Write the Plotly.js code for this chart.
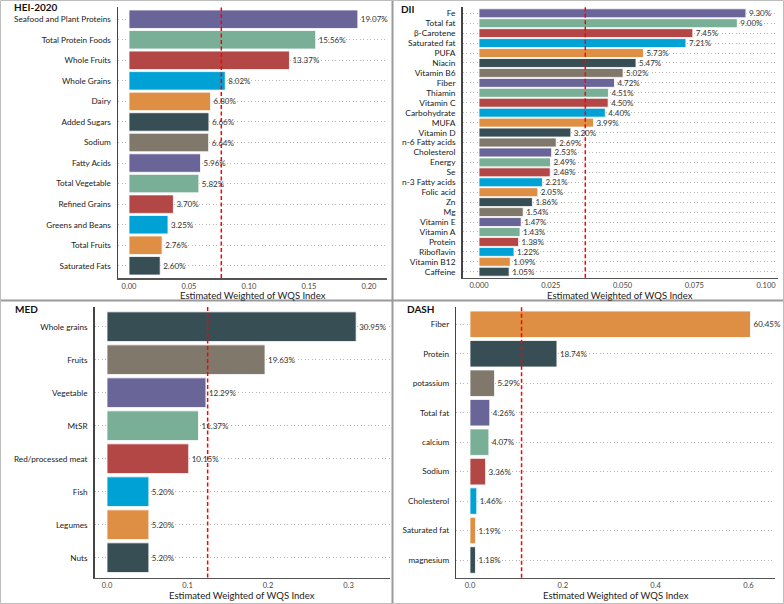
<!DOCTYPE html>
<html>
<head>
<meta charset="utf-8">
<script src="https://cdn.plot.ly/plotly-3.0.1.min.js"></script>
<style>html,body{margin:0;padding:0;background:#fff;}#chart{width:784px;height:604px;}</style>
</head>
<body>
<div id="chart"></div>
<script>
// ---------- DATA ----------
const heiCategories = ["Seafood and Plant Proteins","Total Protein Foods","Whole Fruits","Whole Grains","Dairy","Added Sugars","Sodium","Fatty Acids","Total Vegetable","Refined Grains","Greens and Beans","Total Fruits","Saturated Fats"];
const heiPercent = [19.07,15.56,13.37,8.02,6.80,6.66,6.64,5.96,5.82,3.70,3.25,2.76,2.60];

const diiCategories = ["Fe","Total fat","β-Carotene","Saturated fat","PUFA","Niacin","Vitamin B6","Fiber","Thiamin","Vitamin C","Carbohydrate","MUFA","Vitamin D","n-6 Fatty acids","Cholesterol","Energy","Se","n-3 Fatty acids","Folic acid","Zn","Mg","Vitamin E","Vitamin A","Protein","Riboflavin","Vitamin B12","Caffeine"];
const diiPercent = [9.30,9.00,7.45,7.21,5.73,5.47,5.02,4.72,4.51,4.50,4.40,3.99,3.20,2.69,2.53,2.49,2.48,2.21,2.05,1.86,1.54,1.47,1.43,1.38,1.22,1.09,1.05];

const medCategories = ["Whole grains","Fruits","Vegetable","MtSR","Red/processed meat","Fish","Legumes","Nuts"];
const medPercent = [30.95,19.63,12.29,11.37,10.15,5.20,5.20,5.20];

const dashCategories = ["Fiber","Protein","potassium","Total fat","calcium","Sodium","Cholesterol","Saturated fat","magnesium"];
const dashPercent = [60.45,18.74,5.29,4.26,4.07,3.36,1.46,1.19,1.18];

const panelTitles = ["HEI-2020","DII","MED","DASH"];
const axisTitle = "Estimated Weighted of WQS Index";

// ---------- STYLE ----------
const jama = ["#374E55","#DF8F44","#00A1D5","#B24745","#79AF97","#6A6599","#80796B"];
const FONT = "Lato, Open Sans, sans-serif";
const W = 784, H = 604;
const px = v => v / W;
const py = v => 1 - v / H;

// panel geometry in pixels: [left, right, top, bottom]
const panels = [
  {cats: heiCategories, pct: heiPercent, box: [118, 387, 6.9, 278.1], zero: 129, scale: 1200, dtick: 0.05, fmt: ".2f", title: [11.5, 6.5], atitle: 295.3, lab: 8.2},
  {cats: diiCategories, pct: diiPercent, box: [462.7, 778, 7.3, 277.7], zero: 479, scale: 2870, dtick: 0.025, fmt: ".3f", title: [399, 9], atitle: 295.3, lab: 8.4},
  {cats: medCategories, pct: medPercent, box: [94.7, 390, 306.9, 577.5], zero: 107, scale: 805, dtick: 0.1, fmt: ".1f", title: [12.5, 309], atitle: 595, lab: 8.2},
  {cats: dashCategories, pct: dashPercent, box: [456.3, 775, 306.6, 577.7], zero: 470, scale: 464, dtick: 0.2, fmt: ".1f", title: [404.5, 309], atitle: 595, lab: 8.2}
];

const data = [];
const layout = {
  width: W, height: H,
  margin: {l: 0, r: 0, t: 0, b: 0},
  paper_bgcolor: "#fff", plot_bgcolor: "#fff",
  showlegend: false,
  bargap: 0.1,
  font: {family: FONT, color: "#222"},
  shapes: [], annotations: []
};

panels.forEach((p, k) => {
  const n = p.cats.length;
  const sx = k === 0 ? "" : String(k + 1);
  const xa = "x" + sx, ya = "y" + sx;
  data.push({
    type: "bar", orientation: "h",
    y: p.cats, x: p.pct.map(v => v / 100),
    text: p.pct.map(v => v.toFixed(2) + "%"),
    textposition: "outside", cliponaxis: false, constraintext: "none",
    textfont: {family: FONT, size: 8, color: "#333"},
    marker: {color: p.cats.map((c, i) => jama[(n - 1 - i) % 7]), line: {color: "#fff", width: 0.8}},
    xaxis: xa, yaxis: ya, hoverinfo: "none"
  });
  const [l, r, t, b] = p.box;
  layout["xaxis" + sx] = {
    domain: [px(l), px(r)], anchor: ya,
    range: [(l - p.zero) / p.scale, (r - p.zero) / p.scale],
    dtick: p.dtick, tick0: 0, tickformat: p.fmt,
    showgrid: false, zeroline: false, showline: true, linecolor: "#555", linewidth: 1.5,
    ticks: "", ticklabelstandoff: 0, tickfont: {family: FONT, size: 7.5, color: "#444"}
  };
  layout["yaxis" + sx] = {
    domain: [py(b), py(t)], anchor: xa,
    type: "category", categoryarray: p.cats,
    tickmode: "array", tickvals: p.cats, ticktext: p.cats,
    range: [n - 0.4, -0.6],
    showgrid: true, gridcolor: "#b8b8b8", griddash: "1px,2.5px", gridwidth: 1,
    zeroline: false, showline: true, linecolor: "#444", linewidth: 1.5,
    ticks: "", ticklabelstandoff: 4,
    tickfont: {family: FONT, size: p.lab, color: "#1a1a1a"}
  };
  layout.shapes.push({
    type: "line", xref: xa, yref: ya + " domain",
    x0: 1 / n, x1: 1 / n, y0: 0, y1: 1,
    line: {color: "#ff0000", width: 1.5, dash: "4px,2.5px"}, layer: "above"
  });
  layout.annotations.push({
    text: "<b>" + panelTitles[k] + "</b>", xref: "paper", yref: "paper",
    x: px(p.title[0]), y: py(p.title[1]), xanchor: "left", yanchor: "middle",
    showarrow: false, font: {family: FONT, size: 10, color: "#111"}
  });
  layout.annotations.push({
    text: axisTitle, xref: "paper", yref: "paper",
    x: px((l + r) / 2), y: py(p.atitle), xanchor: "center", yanchor: "middle",
    showarrow: false, font: {family: FONT, size: 9.5, color: "#222"}
  });
});

// panel borders
layout.shapes.push(
  {type: "line", xref: "paper", yref: "paper", x0: px(392.5), x1: px(392.5), y0: 0, y1: 1, line: {color: "#9a9a9a", width: 2}},
  {type: "line", xref: "paper", yref: "paper", x0: 0, x1: 1, y0: py(300.5), y1: py(300.5), line: {color: "#9a9a9a", width: 2}},
  {type: "rect", xref: "paper", yref: "paper", x0: px(0.5), x1: px(783.5), y0: py(603.5), y1: py(0.5), line: {color: "#bdbdbd", width: 1}}
);

Plotly.newPlot("chart", data, layout, {staticPlot: true, displayModeBar: false});
</script>
</body>
</html>
